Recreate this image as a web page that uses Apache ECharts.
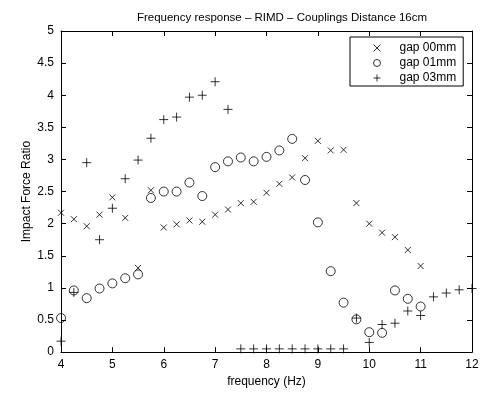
<!DOCTYPE html>
<html>
<head>
<meta charset="utf-8">
<script src="https://cdn.jsdelivr.net/npm/echarts@6/dist/echarts.min.js"></script>
<style>html,body{margin:0;padding:0;background:#fff}#c{width:483px;height:393px}</style>
</head>
<body>
<div id="c"></div>
<script>
var freq00 = [4, 4.25, 4.5, 4.75, 5, 5.25, 5.5, 5.75, 6, 6.25, 6.5, 6.75, 7, 7.25, 7.5, 7.75, 8, 8.25, 8.5, 8.75, 9, 9.25, 9.5, 9.75, 10, 10.25, 10.5, 10.75, 11];
var gap00 = [2.17, 2.07, 1.96, 2.14, 2.41, 2.09, 1.31, 2.52, 1.94, 1.99, 2.05, 2.03, 2.14, 2.22, 2.32, 2.34, 2.48, 2.62, 2.72, 3.02, 3.29, 3.14, 3.15, 2.32, 2.0, 1.86, 1.79, 1.59, 1.34];
var freq01 = [4, 4.25, 4.5, 4.75, 5, 5.25, 5.5, 5.75, 6, 6.25, 6.5, 6.75, 7, 7.25, 7.5, 7.75, 8, 8.25, 8.5, 8.75, 9, 9.25, 9.5, 9.75, 10, 10.25, 10.5, 10.75, 11];
var gap01 = [0.53, 0.96, 0.84, 0.99, 1.07, 1.15, 1.21, 2.4, 2.5, 2.5, 2.64, 2.43, 2.88, 2.97, 3.03, 2.97, 3.04, 3.14, 3.32, 2.68, 2.02, 1.26, 0.77, 0.51, 0.31, 0.3, 0.96, 0.83, 0.71];
var freq03 = [4, 4.25, 4.5, 4.75, 5, 5.25, 5.5, 5.75, 6, 6.25, 6.5, 6.75, 7, 7.25, 7.5, 7.75, 8, 8.25, 8.5, 8.75, 9, 9.25, 9.5, 9.75, 10, 10.25, 10.5, 10.75, 11, 11.25, 11.5, 11.75, 12];
var gap03 = [0.17, 0.93, 2.95, 1.75, 2.24, 2.7, 2.99, 3.33, 3.62, 3.66, 3.97, 4.0, 4.21, 3.78, 0.05, 0.05, 0.05, 0.05, 0.05, 0.05, 0.05, 0.05, 0.05, 0.53, 0.15, 0.43, 0.45, 0.64, 0.57, 0.86, 0.92, 0.97, 0.99];
var seriesNames = ['gap 00mm', 'gap 01mm', 'gap 03mm'];
var titleText = 'Frequency response \u2013 RIMD \u2013 Couplings Distance 16cm';
var xName = 'frequency (Hz)';
var yName = 'Impact Force Ratio';

function pairs(xs, ys) { return xs.map(function (x, i) { return [x, ys[i]]; }); }

var FONT = 'Liberation Sans, Arial, sans-serif';
var symX = 'path://M0,0L10,10M10,0L0,10';
var symPlus = 'path://M5,0L5,10M0,5L10,5';
var markStyle = { color: 'transparent', borderColor: '#000', borderWidth: 1 };

function axisCommon(show) {
  return {
    axisLine: { show: true, onZero: false, lineStyle: { color: '#000', width: 1 } },
    axisTick: { show: true, inside: true, length: 5, lineStyle: { color: '#000' } },
    axisLabel: { show: show, color: '#000', fontSize: 12, fontFamily: FONT, margin: 7 },
    splitLine: { show: false }
  };
}

var chart = echarts.init(document.getElementById('c'), null, { renderer: 'canvas' });
chart.setOption({
  animation: false,
  backgroundColor: '#fff',
  title: {
    text: titleText, left: 277, top: 7, textAlign: 'center',
    textStyle: { fontSize: 11.5, fontWeight: 'normal', color: '#000', fontFamily: FONT }
  },
  grid: { left: 61, right: 11, top: 31, bottom: 39, containLabel: false },
  legend: {
    orient: 'vertical', left: 350, top: 37,
    itemWidth: 7, itemHeight: 7, itemGap: 3,
    padding: [5, 7, 2, 23],
    backgroundColor: '#fff', borderColor: '#000', borderWidth: 1, borderRadius: 0,
    textStyle: { fontSize: 12, color: '#000', fontFamily: FONT, padding: [0, 0, 0, 14] },
    data: [
      { name: seriesNames[0], icon: symX },
      { name: seriesNames[1], icon: 'circle' },
      { name: seriesNames[2], icon: symPlus }
    ],
    itemStyle: markStyle
  },
  xAxis: [
    Object.assign({ type: 'value', min: 4, max: 12, interval: 1, position: 'bottom',
      name: xName, nameLocation: 'middle', nameGap: 20,
      nameTextStyle: { fontSize: 12, color: '#000', fontFamily: FONT } }, axisCommon(true)),
    Object.assign({ type: 'value', min: 4, max: 12, interval: 1, position: 'top' }, axisCommon(false))
  ],
  yAxis: [
    Object.assign({ type: 'value', min: 0, max: 5, interval: 0.5, position: 'left',
      name: yName, nameLocation: 'middle', nameGap: 28, nameRotate: 90, nameMoveOverlap: false,
      nameTextStyle: { fontSize: 12, color: '#000', fontFamily: FONT } }, axisCommon(true)),
    Object.assign({ type: 'value', min: 0, max: 5, interval: 0.5, position: 'right' }, axisCommon(false))
  ],
  series: [
    { name: seriesNames[0], type: 'scatter', data: pairs(freq00, gap00), symbol: symX, symbolSize: 6,
      itemStyle: markStyle, emphasis: { disabled: true }, clip: false },
    { name: seriesNames[1], type: 'scatter', data: pairs(freq01, gap01), symbol: 'circle', symbolSize: 9,
      itemStyle: markStyle, emphasis: { disabled: true }, clip: false },
    { name: seriesNames[2], type: 'scatter', data: pairs(freq03, gap03), symbol: symPlus, symbolSize: 9,
      itemStyle: markStyle, emphasis: { disabled: true }, clip: false }
  ]
});
</script>
</body>
</html>
